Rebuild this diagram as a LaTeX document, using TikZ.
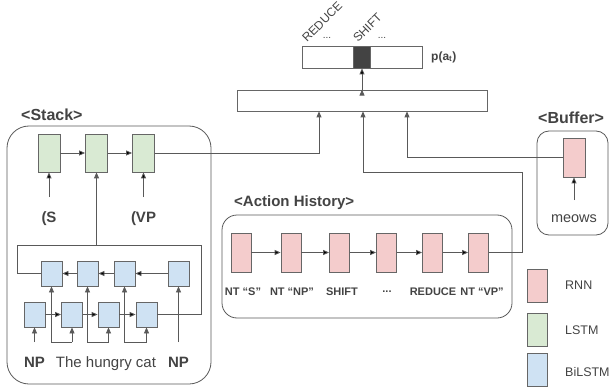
\documentclass[tikz,border=0pt]{standalone}
\usepackage{fontspec}
\setmainfont{Liberation Sans}
\usetikzlibrary{arrows.meta}
\definecolor{rnnfill}{HTML}{F4CCCC}
\definecolor{lstmfill}{HTML}{D9EAD3}
\definecolor{bifill}{HTML}{CFE2F3}
\definecolor{edgegray}{HTML}{666666}
\definecolor{linegray}{HTML}{595959}
\definecolor{txtgray}{HTML}{434343}

\begin{document}
\begin{tikzpicture}[x=1pt,y=-1pt,
    every node/.style={text=txtgray},
    cell/.style={draw=edgegray,line width=0.8pt,inner sep=0pt},
    rnn/.style={cell,fill=rnnfill,minimum width=20pt,minimum height=39pt},
    lstm/.style={cell,fill=lstmfill,minimum width=22pt,minimum height=38pt},
    bilstm/.style={cell,fill=bifill,minimum width=21pt,minimum height=25pt},
    keybox/.style={cell,minimum width=20pt,minimum height=33pt},
    outcell/.style={cell,fill=white},
    hdr/.style={anchor=west,inner sep=0pt,font=\bfseries\fontsize{16}{19}\selectfont},
    actlbl/.style={inner sep=0pt,font=\bfseries\fontsize{11}{13}\selectfont},
    keylbl/.style={anchor=west,inner sep=0pt,font=\fontsize{12.5}{15}\selectfont},
    toplbl/.style={rotate=45,anchor=base west,inner sep=0pt,font=\fontsize{12}{14}\selectfont},
    word/.style={anchor=base,inner sep=0pt,text height=11pt,text depth=3pt,
      outer ysep=14.5pt,font=\fontsize{15}{18}\selectfont},
    wordb/.style={word,font=\bfseries\fontsize{15}{18}\selectfont},
    wire/.style={draw=linegray,line width=0.8pt},
    conn/.style={wire,-{Triangle[length=6pt,width=5pt]}}]
  \useasboundingbox (0,0) rectangle (609,387);

  % output distribution
  \node[outcell,minimum width=120pt,minimum height=22pt] (pout) at (362,57) {};
  \node[cell,fill=txtgray,minimum width=17pt,minimum height=22pt] (pshift) at (361.5,57) {};
  \node[anchor=west,inner sep=0pt,font=\bfseries\fontsize{12}{14}\selectfont] (plabel) at (431,57) {p(a\textsubscript{t})};
  \node[toplbl] (lreduce) at (307,43) {REDUCE};
  \node[toplbl] (lshift) at (358,43) {SHIFT};
  \node[inner sep=0pt,font=\fontsize{10}{12}\selectfont] (dotsa) at (327,38) {...};
  \node[inner sep=0pt,font=\fontsize{10}{12}\selectfont] (dotsb) at (382,38) {...};

  \node[outcell,minimum width=250pt,minimum height=21pt] (mid) at (362,100.5) {};
  \path [conn] (mid.north) edge (pout.south);

  % stack
  \node[hdr] (stacktitle) at (21,115) {<Stack>};
  \draw[wire,rounded corners=22pt] (7,126) rectangle (211,384);

  \node[lstm] (g1) at (49,153) {};
  \node[lstm] (g2) at (96.5,153) {};
  \node[lstm] (g3) at (143.5,153) {};
  \path [conn] (g1) edge (g2);
  \path [conn] (g2) edge (g3);

  \node[wordb] (wS) at (49,222.5) {(S};
  \node[wordb] (wVP) at (143.5,222.5) {(VP};
  \path [conn] (wS) edge (g1);
  \path [conn] (wVP) edge (g3);

  \node[bilstm] (u1) at (51.5,273.5) {};
  \node[bilstm] (u2) at (87.5,273.5) {};
  \node[bilstm] (u3) at (124.5,273.5) {};
  \node[bilstm] (u4) at (178.5,273.5) {};
  \path [conn] (u4) edge (u3);
  \path [conn] (u3) edge (u2);
  \path [conn] (u2) edge (u1);

  \node[bilstm] (d1) at (34.5,314.5) {};
  \node[bilstm] (d2) at (72,314.5) {};
  \node[bilstm] (d3) at (108.5,314.5) {};
  \node[bilstm] (d4) at (146.5,314.5) {};
  \path [conn] (d1) edge (d2);
  \path [conn] (d2) edge (d3);
  \path [conn] (d3) edge (d4);

  \coordinate (fl) at (17,245);
  \coordinate (fr) at (201,245);
  \draw[wire] (u1.west) -| (fl) -- (fr) |- (d4.east);
  \draw[conn] (g2.south |- fl) -- (g2.south);

  \node[wordb] (wNPa) at (34.5,367.5) {NP};
  \node[word] (wPhrase) at (106,367.5) {The hungry cat};
  \node[wordb] (wNPb) at (178.5,367.5) {NP};

  \draw[conn] (d1.south |- wNPa.north) -- (d1.south);
  \draw[conn] (d2.south |- wPhrase.north) -- (d2.south);
  \draw[conn] (d2.south |- wPhrase.north) -| (u1.south);
  \draw[conn] (d3.south |- wPhrase.north) -- (d3.south);
  \draw[conn] (d3.south |- wPhrase.north) -| (u2.south);
  \draw[conn] (d4.south |- wPhrase.north) -- (d4.south);
  \draw[conn] (d4.south |- wPhrase.north) -| (u3.south);
  \draw[conn] (u4.south |- wNPb.north) -- (u4.south);

  \draw[conn] (g3.east) -| ([xshift=-43pt]mid.south);

  % action history
  \node[hdr,font=\bfseries\fontsize{15}{18}\selectfont] (acttitle) at (234,203) {<Action History>};
  \draw[wire,rounded corners=15pt] (222,215) rectangle (512,318);

  \node[rnn] (a1) at (241,252.5) {};
  \node[rnn] (a2) at (291,252.5) {};
  \node[rnn] (a3) at (339.5,252.5) {};
  \node[rnn] (a4) at (386.5,252.5) {};
  \node[rnn] (a5) at (432.5,252.5) {};
  \node[rnn] (a6) at (478.5,252.5) {};
  \path [conn] (a1) edge (a2);
  \path [conn] (a2) edge (a3);
  \path [conn] (a3) edge (a4);
  \path [conn] (a4) edge (a5);
  \path [conn] (a5) edge (a6);

  \node[actlbl] (t1) at (243,292) {NT “S”};
  \node[actlbl] (t2) at (292,292) {NT “NP”};
  \node[actlbl] (t3) at (342,292) {SHIFT};
  \node[actlbl] (t4) at (387,292) {...};
  \node[actlbl] (t5) at (433,292) {REDUCE};
  \node[actlbl] (t6) at (482,292) {NT “VP”};

  \draw[conn] (a6.east) -| (522,172) -| ([xshift=1pt]mid.south);

  % buffer
  \node[hdr] (buftitle) at (538,118) {<Buffer>};
  \draw[wire,rounded corners=12pt] (537,131) rectangle (608,235);
  \node[rnn,minimum width=22pt] (b1) at (574,157.5) {};
  \node[word,outer ysep=11pt,font=\fontsize{14.5}{17}\selectfont] (wMeows) at (574,222) {meows};
  \path [conn] (wMeows) edge (b1);
  \draw[conn] (b1.west) -| ([xshift=45pt]mid.south);

  % legend
  \node[keybox,fill=rnnfill] (krnn) at (537,286) {};
  \node[keybox,fill=lstmfill] (klstm) at (537,330) {};
  \node[keybox,fill=bifill] (kbi) at (537,370) {};
  \node[keylbl] (lrnn) at (565,285) {RNN};
  \node[keylbl] (llstm) at (565,330) {LSTM};
  \node[keylbl] (lbi) at (565,372) {BiLSTM};
\end{tikzpicture}
\end{document}
